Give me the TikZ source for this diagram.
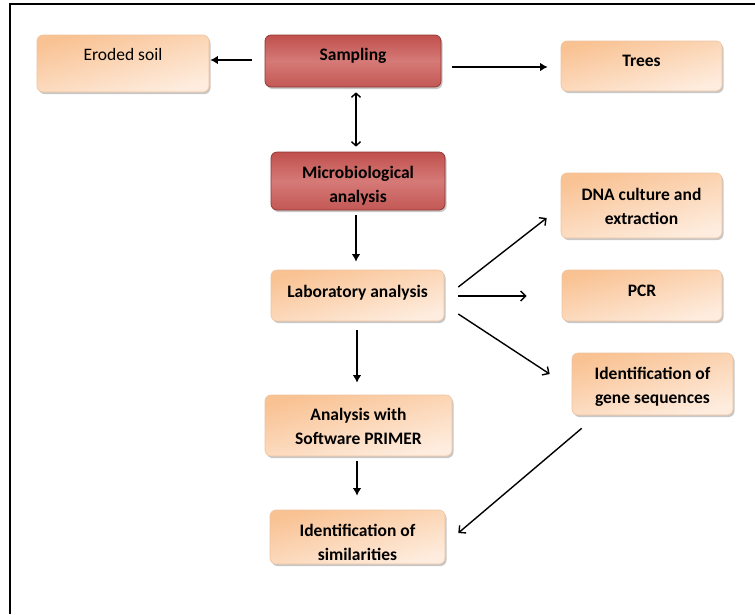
\documentclass[tikz,border=0pt]{standalone}
\usepackage{fontspec}
\setmainfont{Carlito}
\usetikzlibrary{arrows.meta,shadows,calc}
\definecolor{peach}{HTML}{F9C293}
\definecolor{peachlt}{HTML}{FEEDDF}
\definecolor{peachbd}{HTML}{EFC4A0}
\definecolor{redbox}{HTML}{C0504D}
\definecolor{redmid}{HTML}{D57A77}
\definecolor{redbot}{HTML}{C35855}
\definecolor{redbd}{HTML}{8E3532}
\begin{document}
\begin{tikzpicture}[x=1pt,y=-1pt,
  base/.style={rectangle, rounded corners=6pt, inner sep=0pt, align=center,
    font=\fontsize{17.5}{24}\selectfont\bfseries,
    drop shadow={shadow xshift=1.5pt, shadow yshift=-2pt, fill=black, opacity=0.22}},
  obox/.style={base, draw=peachbd, line width=0.6pt, top color=peach, bottom color=peachlt, shading angle=15},
  rbox/.style={base, draw=redbd, line width=0.7pt, top color=redbox, bottom color=redbot, middle color=redmid},
  sline/.style={text height=12pt, text depth=#1},
  mline/.style={text height=#1, text depth=4pt},
  thk/.style={line width=2.6pt, -{Latex[length=7.5pt,width=8.5pt]}},
  thn/.style={line width=1.4pt, -{Straight Barb[length=5pt,width=10pt]}},
  dbl/.style={line width=1.4pt, {Straight Barb[length=4pt,width=9pt]}-{Straight Barb[length=4pt,width=9pt]}}
]
\useasboundingbox (0,0) rectangle (755,614);
\draw[line width=2pt] (10,614) -- (10,4) -- (755,4);

\node[obox, sline=17.8pt, minimum width=172pt, minimum height=57pt, font=\fontsize{17.5}{24}\selectfont] (ero) at (123,63.5) {Eroded soil};
\node[rbox, sline=12.8pt, minimum width=176pt, minimum height=52pt] (samp) at (353,61) {Sampling};
\node[obox, sline=10.8pt, minimum width=161pt, minimum height=50pt] (trees) at (641.5,66) {Trees};
\node[rbox, mline=47pt, minimum width=174pt, minimum height=58pt] (micro) at (358,181) {Microbiological\\analysis};
\node[obox, mline=41pt, minimum width=161pt, minimum height=65pt] (dna) at (641.5,205.5) {DNA culture and\\extraction};
\node[obox, sline=7.8pt, minimum width=173pt, minimum height=51pt] (lab) at (357.5,295.5) {Laboratory analysis};
\node[obox, sline=9.8pt, minimum width=160pt, minimum height=51pt] (pcr) at (642,295.5) {PCR};
\node[obox, mline=43pt, minimum width=161pt, minimum height=62pt] (gene) at (652.5,384) {Identification of\\gene sequences};
\node[obox, mline=42pt, minimum width=187pt, minimum height=61pt] (primer) at (358.5,425.5) {Analysis with\\Software PRIMER};
\node[obox, mline=50pt, minimum width=175pt, minimum height=52pt] (sim) at (357.5,537) {Identification of\\similarities};

\draw[thk] ($(samp.west)+(-13,-1)$) -- ($(ero.east)+(1,-3.5)$);
\draw[thk] ($(samp.east)+(11,6)$) -- ($(trees.west)+(-13,1)$);
\draw[dbl] ($(samp.south)+(3,5)$) -- ($(micro.north)+(-2,-5)$);
\draw[thk] ($(micro.south)+(-2,5)$) -- ($(lab.north)+(-1.5,-8)$);
\draw[thk] ($(lab.south)+(-0.5,9)$) -- ($(primer.north)+(-1.5,-12)$);
\draw[thk] ($(primer.south)+(-1.5,5)$) -- ($(sim.north)+(-0.5,-14)$);
\draw[thn] ($(lab.east)+(14,-8.5)$) -- ($(dna.west)+(-14,12.5)$);
\draw[thn] ($(lab.east)+(14,0.5)$) -- ($(pcr.west)+(-35,0.5)$);
\draw[thn] ($(lab.east)+(14,18.5)$) -- ($(gene.west)+(-22,-10)$);
\draw[thn] ($(gene.south west)+(10,13)$) -- ($(sim.east)+(13,-4)$);
\end{tikzpicture}
\end{document}
